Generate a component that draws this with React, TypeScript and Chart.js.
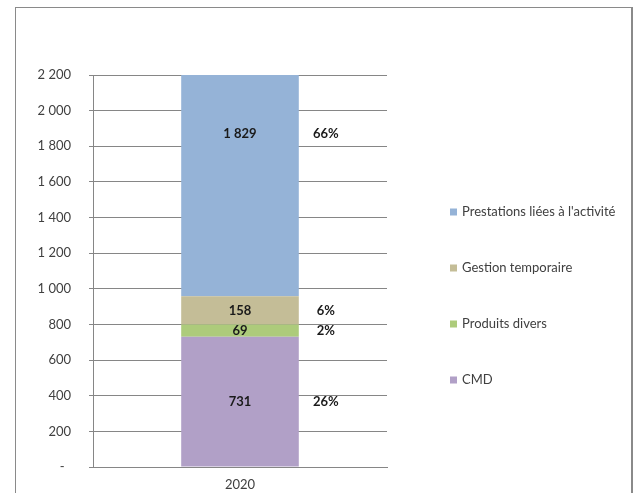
import React, { useEffect, useRef } from "react";
import { Chart, registerables } from "chart.js";

Chart.register(...registerables);

// ---- data ----
const categories = ["2020"];
const seriesNames = [
  "CMD",
  "Produits divers",
  "Gestion temporaire",
  "Prestations liées à l'activité",
];
const cmdValues = [731];
const produitsDiversValues = [69];
const gestionTemporaireValues = [158];
const prestationsValues = [1829];
const percentLabels = ["26%", "2%", "6%", "66%"];
const yMin = 0;
const yMax = 2200;
const yStep = 200;

const seriesColors = ["#B1A0C7", "#ADCB7B", "#C4BD97", "#95B3D7"];

const FONT = "Lato, 'Open Sans', sans-serif";

function formatTick(v: number): string {
  if (v === 0) return "-\u2002";
  const s = Math.round(v).toString();
  return s.replace(/\B(?=(\d{3})+(?!\d))/g, " ");
}

const valueLabelPlugin = {
  id: "valueLabels",
  afterDatasetsDraw(chart: any) {
    const ctx = chart.ctx;
    ctx.save();
    ctx.font = `bold 13px ${FONT}`;
    ctx.textBaseline = "middle";
    chart.data.datasets.forEach((ds: any, di: number) => {
      const meta = chart.getDatasetMeta(di);
      meta.data.forEach((el: any, i: number) => {
        const p = el.getProps(["x", "y", "base", "width"], true);
        const cy = (p.y + p.base) / 2;
        ctx.fillStyle = "#1a1a1a";
        ctx.textAlign = "center";
        ctx.fillText(formatTick(ds.data[i]), p.x, cy);
        ctx.fillText(percentLabels[di], p.x + p.width / 2 + 27, cy);
      });
    });
    ctx.restore();
  },
};

const sideLegendPlugin = {
  id: "sideLegend",
  afterDraw(chart: any) {
    const ctx = chart.ctx;
    const ds = chart.data.datasets;
    const x0 = chart.chartArea.right + 63;
    let y = 212;
    ctx.save();
    ctx.font = `13px ${FONT}`;
    ctx.textBaseline = "middle";
    ctx.textAlign = "left";
    for (let i = ds.length - 1; i >= 0; i--) {
      ctx.fillStyle = ds[i].backgroundColor;
      ctx.fillRect(x0, y - 3.5, 7, 7);
      ctx.fillStyle = "#404040";
      ctx.fillText(ds[i].label, x0 + 12, y);
      y += 56;
    }
    ctx.restore();
  },
};

export default function App() {
  const ref = useRef<HTMLCanvasElement>(null);

  useEffect(() => {
    const prevMargin = document.body.style.margin;
    document.body.style.margin = "0";
    const seriesValues = [
      cmdValues,
      produitsDiversValues,
      gestionTemporaireValues,
      prestationsValues,
    ];
    const chart = new Chart(ref.current as HTMLCanvasElement, {
      type: "bar",
      data: {
        labels: categories,
        datasets: seriesValues.map((vals, i) => ({
          label: seriesNames[i],
          data: vals,
          backgroundColor: seriesColors[i],
          borderWidth: 0,
          categoryPercentage: 1,
          barPercentage: 0.4,
        })),
      },
      options: {
        responsive: false,
        animation: false,
        devicePixelRatio: 1,
        layout: { padding: { top: 75, right: 251, left: 0, bottom: 0 } },
        plugins: {
          legend: { display: false },
          tooltip: { enabled: false },
        },
        scales: {
          x: {
            stacked: true,
            grid: { display: false, drawTicks: false },
            border: { display: true, color: "#868686", width: 1 },
            ticks: {
              color: "#404040",
              font: { family: FONT, size: 13 },
              padding: 10,
            },
            afterFit(scale: any) {
              scale.height = 26;
            },
          },
          y: {
            stacked: true,
            min: yMin,
            max: yMax,
            grid: {
              color: "#868686",
              lineWidth: 1,
              tickLength: 4,
              drawTicks: true,
            },
            border: { display: true, color: "#868686", width: 1 },
            ticks: {
              stepSize: yStep,
              color: "#404040",
              font: { family: FONT, size: 13 },
              padding: 18,
              callback: (v: any) => formatTick(Number(v)),
            },
            afterFit(scale: any) {
              scale.width = 93;
            },
          },
        },
      },
      plugins: [valueLabelPlugin, sideLegendPlugin],
    });
    return () => {
      chart.destroy();
      document.body.style.margin = prevMargin;
    };
  }, []);

  return (
    <div
      style={{
        position: "relative",
        width: 638,
        height: 493,
        overflow: "hidden",
        background: "#fff",
      }}
    >
      <div
        style={{
          position: "absolute",
          left: 15,
          top: 7,
          width: 615,
          height: 520,
          borderTop: "1px solid #8a8a8a",
          borderLeft: "1px solid #8a8a8a",
          borderRight: "2px solid #8a8a8a",
        }}
      />
      <canvas
        ref={ref}
        width={638}
        height={493}
        style={{ position: "absolute", left: 0, top: 0, width: 638, height: 493 }}
      />
    </div>
  );
}
